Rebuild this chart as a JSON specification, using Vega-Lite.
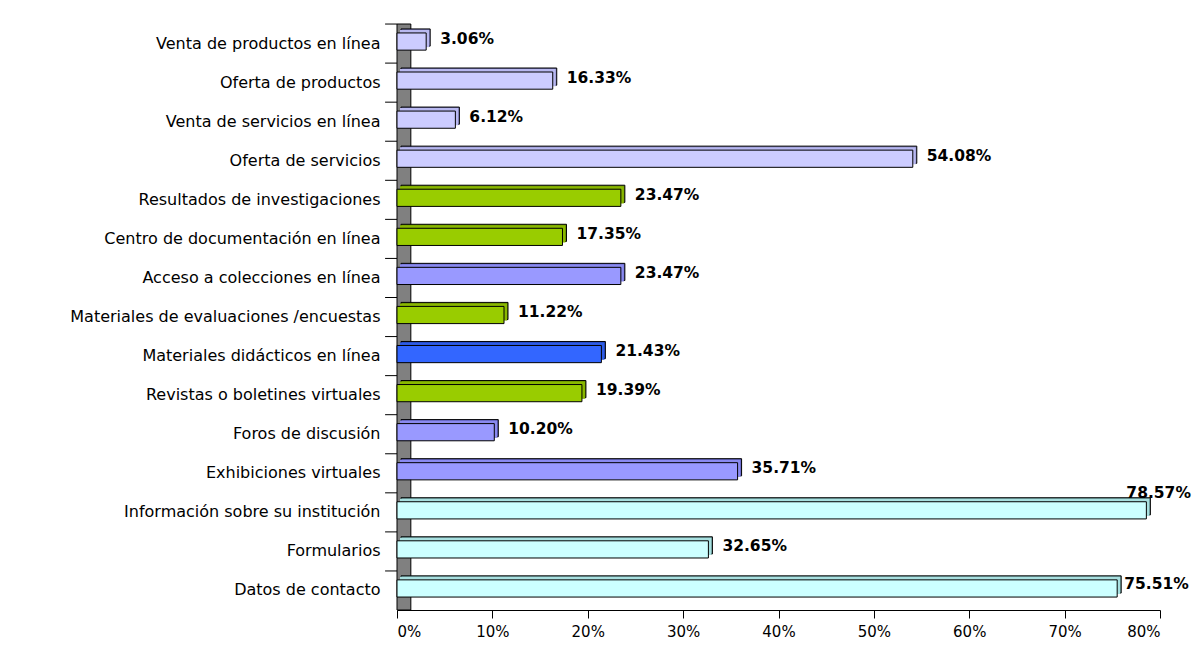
{
  "$schema": "https://vega.github.io/schema/vega-lite/v6.json",
  "width": 763,
  "height": 586,
  "autosize": {"type": "none"},
  "padding": {"left": 397, "top": 24, "right": 39, "bottom": 42},
  "background": "white",
  "config": {"view": {"stroke": null}, "font": "DejaVu Sans"},
  "datasets": {
    "servicios": [
      {"servicio": "Venta de productos en línea", "valor": 0.0306, "grupo": "A"},
      {"servicio": "Oferta de productos", "valor": 0.1633, "grupo": "A"},
      {"servicio": "Venta de servicios en línea", "valor": 0.0612, "grupo": "A"},
      {"servicio": "Oferta de servicios", "valor": 0.5408, "grupo": "A"},
      {"servicio": "Resultados de investigaciones", "valor": 0.2347, "grupo": "B"},
      {"servicio": "Centro de documentación en línea", "valor": 0.1735, "grupo": "B"},
      {"servicio": "Acceso a colecciones en línea", "valor": 0.2347, "grupo": "C"},
      {"servicio": "Materiales de evaluaciones /encuestas", "valor": 0.1122, "grupo": "B"},
      {"servicio": "Materiales didácticos en línea", "valor": 0.2143, "grupo": "D"},
      {"servicio": "Revistas o boletines virtuales", "valor": 0.1939, "grupo": "B"},
      {"servicio": "Foros de discusión", "valor": 0.1020, "grupo": "C"},
      {"servicio": "Exhibiciones virtuales", "valor": 0.3571, "grupo": "C"},
      {"servicio": "Información sobre su institución", "valor": 0.7857, "grupo": "E"},
      {"servicio": "Formularios", "valor": 0.3265, "grupo": "E"},
      {"servicio": "Datos de contacto", "valor": 0.7551, "grupo": "E"}
    ]
  },
  "data": {"name": "servicios"},
  "layer": [
    {
      "data": {"values": [{"pared": "pared"}]},
      "mark": {"type": "rect", "fill": "#808080", "stroke": "#000000", "strokeWidth": 1},
      "encoding": {
        "x": {"datum": 0, "type": "quantitative", "scale": {"domain": [0, 0.8], "nice": false, "zero": true},
          "axis": {"values": [0, 0.1, 0.2, 0.3, 0.4, 0.5, 0.6, 0.7, 0.8], "format": ".0%", "grid": false, "title": null,
            "domainColor": "#000000", "tickColor": "#000000", "tickSize": 8, "labelFontSize": 15, "labelColor": "#000000",
            "labelPadding": 6, "labelFont": "DejaVu Sans"}},
        "x2": {"datum": 0.0145}
      }
    },
    {
      "mark": {"type": "rule", "yOffset": -19.5, "color": "#000000", "strokeWidth": 1},
      "encoding": {
        "y": {"field": "servicio", "type": "nominal", "sort": null},
        "x": {"datum": -0.0125},
        "x2": {"datum": 0}
      }
    },
    {
      "mark": {"type": "bar", "xOffset": 4, "x2Offset": 4, "yOffset": -6, "y2Offset": -6, "stroke": "#000000", "strokeWidth": 1},
      "encoding": {
        "y": {"field": "servicio", "type": "nominal", "sort": null,
          "scale": {"paddingInner": 0.56, "paddingOuter": 0.28},
          "axis": {"ticks": false, "domain": false, "title": null, "labelFontSize": 16, "labelColor": "#000000", "labelPadding": 17, "labelFont": "DejaVu Sans", "labelLimit": 400}},
        "x": {"field": "valor", "type": "quantitative"},
        "color": {"field": "grupo", "type": "nominal", "legend": null,
          "scale": {"domain": ["A", "B", "C", "D", "E"], "range": ["#6E6EAA", "#5E8000", "#4E4EA6", "#1F3FA8", "#5E8C8C"]}}
      }
    },
    {
      "mark": {"type": "bar", "yOffset": -5, "y2Offset": -5, "xOffset": 3, "x2Offset": 1, "strokeWidth": 0},
      "encoding": {
        "y": {"field": "servicio", "type": "nominal", "sort": null},
        "x": {"field": "valor", "type": "quantitative"},
        "color": {"field": "grupo", "type": "nominal", "legend": null,
          "scale": {"domain": ["A", "B", "C", "D", "E"], "range": ["#B8B8F0", "#8AB800", "#8A8AF0", "#2E5CE6", "#A8E0E0"]}}
      }
    },
    {
      "mark": {"type": "bar", "yOffset": -2, "y2Offset": -2, "stroke": "#000000", "strokeWidth": 1},
      "encoding": {
        "y": {"field": "servicio", "type": "nominal", "sort": null},
        "x": {"field": "valor", "type": "quantitative"},
        "color": {"field": "grupo", "type": "nominal", "legend": null,
          "scale": {"domain": ["A", "B", "C", "D", "E"], "range": ["#CCCCFF", "#99CC00", "#9999FF", "#3366FF", "#CCFFFF"]}}
      }
    },
    {
      "transform": [{"filter": "datum.valor < 0.7"}],
      "mark": {"type": "text", "align": "left", "baseline": "middle", "dx": 14, "dy": -5, "font": "DejaVu Sans", "fontWeight": "bold", "fontSize": 15.5, "color": "#000000"},
      "encoding": {
        "y": {"field": "servicio", "type": "nominal", "sort": null},
        "x": {"field": "valor", "type": "quantitative"},
        "text": {"field": "valor", "type": "quantitative", "format": ".2%"}
      }
    },
    {
      "transform": [{"filter": "datum.valor > 0.77"}],
      "mark": {"type": "text", "align": "left", "baseline": "middle", "dx": -20, "dy": -19, "font": "DejaVu Sans", "fontWeight": "bold", "fontSize": 15.5, "color": "#000000"},
      "encoding": {
        "y": {"field": "servicio", "type": "nominal", "sort": null},
        "x": {"field": "valor", "type": "quantitative"},
        "text": {"field": "valor", "type": "quantitative", "format": ".2%"}
      }
    },
    {
      "transform": [{"filter": "datum.valor > 0.7 && datum.valor < 0.77"}],
      "mark": {"type": "text", "align": "left", "baseline": "middle", "dx": 7, "dy": -6, "font": "DejaVu Sans", "fontWeight": "bold", "fontSize": 15.5, "color": "#000000"},
      "encoding": {
        "y": {"field": "servicio", "type": "nominal", "sort": null},
        "x": {"field": "valor", "type": "quantitative"},
        "text": {"field": "valor", "type": "quantitative", "format": ".2%"}
      }
    }
  ],
  "resolve": {"scale": {"color": "independent"}}
}
